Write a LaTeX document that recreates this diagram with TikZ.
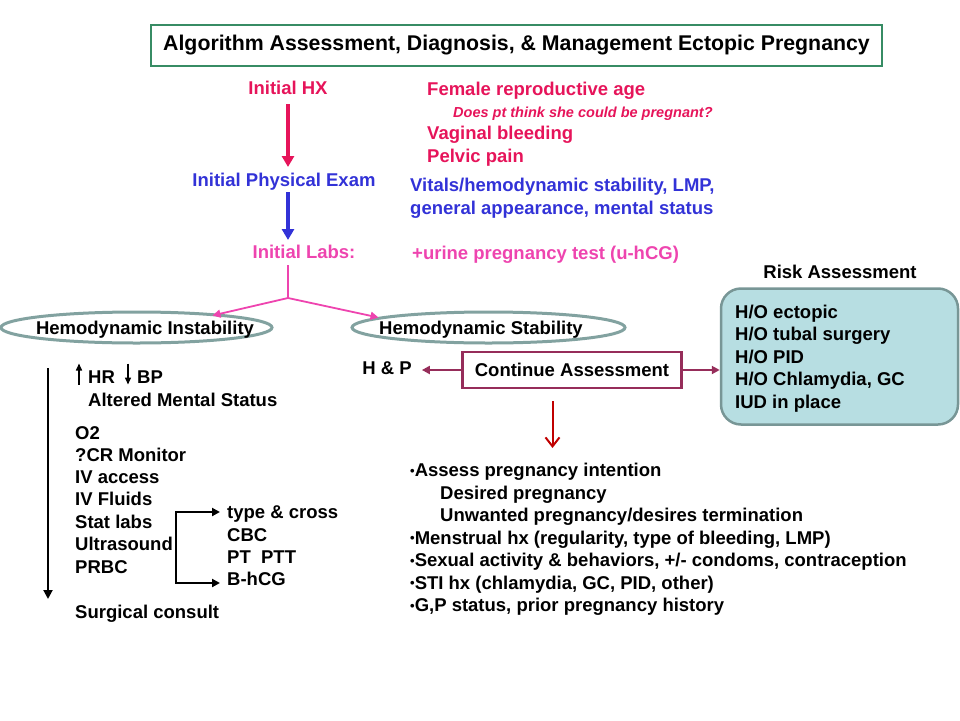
\documentclass[tikz,border=0pt]{standalone}
\usepackage{fontspec}
\setmainfont{Liberation Sans}
\usetikzlibrary{arrows.meta,shapes.geometric,calc}
\definecolor{crimson}{RGB}{230,20,90}
\definecolor{exblue}{RGB}{50,50,215}
\definecolor{labpink}{RGB}{238,68,175}
\definecolor{titlegreen}{RGB}{55,140,100}
\definecolor{ellgray}{RGB}{130,162,160}
\definecolor{riskfill}{RGB}{183,222,226}
\definecolor{riskborder}{RGB}{120,150,150}
\definecolor{maroon}{RGB}{150,45,90}
\definecolor{darkred}{RGB}{192,0,0}
\newcommand{\smallbul}{{\fontsize{13}{13}\selectfont\raisebox{1.2pt}{\textbullet}}}
\begin{document}
\begin{tikzpicture}[x=1pt,y=-1pt,
  txt/.style={inner sep=0pt, anchor=base west, font=\bfseries\fontsize{18.5}{21}\selectfont},
  txtc/.style={txt, anchor=base},
  small/.style={inner sep=0pt, anchor=base west, font=\bfseries\itshape\fontsize{14.5}{17}\selectfont},
  bigarrow/.style={line width=4pt, -{Triangle[length=11pt,width=12pt]}},
  thinarrow/.style={line width=1.8pt, -{Triangle[length=8pt,width=8pt]}},
  ellshape/.style={ellipse, draw=ellgray, line width=3pt, inner sep=0pt},
]
\useasboundingbox (0,0) rectangle (960,720);

% title
\node[draw=titlegreen, line width=2.5pt, minimum width=731pt, minimum height=41pt, inner sep=0pt,
  font=\bfseries\fontsize{21.3}{24}\selectfont] (title) at (516.5,45.5)
  {Algorithm Assessment, Diagnosis, \& Management Ectopic Pregnancy};

% left spine
\node[txtc, text=crimson] (hx) at (288,94.5) {Initial HX};
\node[txtc, text=exblue] (pe) at (284,186.5) {Initial Physical Exam};
\node[txtc, text=labpink] (labs) at (304,258) {Initial Labs:};

\coordinate (hxa) at (288,104);
\coordinate (hxb) at (288,167);
\coordinate (pea) at (288,192);
\coordinate (peb) at (288,240);
\draw[bigarrow, crimson] (hxa) -- (hxb);
\draw[bigarrow, exblue] (pea) -- (peb);

% right column of history / exam / labs
\node[txt, text=crimson] (f1) at (427,95) {Female reproductive age};
\node[small, text=crimson] (f2) at (453,117) {Does pt think she could be pregnant?};
\node[txt, text=crimson] (f3) at (427,139) {Vaginal bleeding};
\node[txt, text=crimson] (f4) at (427,162) {Pelvic pain};
\node[txt, text=exblue] (v1) at (410,191) {Vitals/hemodynamic stability, LMP,};
\node[txt, text=exblue] (v2) at (410,214) {general appearance, mental status};
\node[txt, text=labpink] (u1) at (412,259) {+urine pregnancy test (u-hCG)};

% ellipses
\node[ellshape, minimum width=271pt, minimum height=31pt] (instab) at (136.5,327.5) {};
\node[txtc] (instabt) at (145,334) {Hemodynamic Instability};
\node[ellshape, minimum width=273pt, minimum height=31pt] (stab) at (488.5,327.5) {};
\node[txtc] (stabt) at (481,334) {Hemodynamic Stability};

% pink split
\coordinate (labsb) at (288,265);
\coordinate (jn) at (288,298);
\draw[labpink, line width=1.8pt] (labsb) -- (jn);
\draw[thinarrow, labpink] (jn) -- ($(instab.center)+(76,-12)$);
\draw[thinarrow, labpink] (jn) -- ($(stab.center)+(-110,-10)$);

% risk assessment
\node[txtc] (rah) at (840,278) {Risk Assessment};
\node[draw=riskborder, fill=riskfill, line width=2.5pt, rounded corners=20pt,
  minimum width=237pt, minimum height=136pt, inner sep=0pt] (risk) at (839.5,356.5) {};
\node[txt] (r1) at (735,318) {H/O ectopic};
\node[txt] (r2) at (735,340.5) {H/O tubal surgery};
\node[txt] (r3) at (735,363) {H/O PID};
\node[txt] (r4) at (735,385.5) {H/O Chlamydia, GC};
\node[txt] (r5) at (735,408) {IUD in place};

% continue assessment
\node[draw=maroon, line width=2.5pt, minimum width=219pt, minimum height=36pt, inner sep=0pt,
  font=\bfseries\fontsize{18.5}{21}\selectfont] (cont) at (572,370) {Continue Assessment};
\node[txtc] (hp) at (387,374.5) {H \& P};
\draw[maroon, line width=2.5pt, -{Triangle[length=8pt,width=8pt]}, shorten >=10pt] (cont.west) -- (hp.east |- cont.west);
\draw[maroon, line width=2.5pt, -{Triangle[length=8pt,width=8pt]}] (cont.east) -- (risk.west |- cont.east);

\coordinate (dra) at (552.5,401);
\coordinate (drb) at (552.5,448);
\draw[darkred, line width=2pt, -{Straight Barb[length=9pt,width=14pt,line width=2pt]}] (dra) -- (drb);

% assessment list
\node[txt] (a1) at (410,476.5) {\smallbul Assess pregnancy intention};
\node[txt] (a2) at (440,499) {Desired pregnancy};
\node[txt] (a3) at (440,521.5) {Unwanted pregnancy/desires termination};
\node[txt] (a4) at (410,544) {\smallbul Menstrual hx (regularity, type of bleeding, LMP)};
\node[txt] (a5) at (410,566.5) {\smallbul Sexual activity \& behaviors, +/- condoms, contraception};
\node[txt] (a6) at (410,589) {\smallbul STI hx (chlamydia, GC, PID, other)};
\node[txt] (a7) at (410,611.5) {\smallbul G,P status, prior pregnancy history};

% instability side
\node[txt] (hr) at (88,383.5) {HR};
\node[txt] (bp) at (137,383.5) {BP};
\draw[line width=1.5pt, -{Triangle[length=7pt,width=6pt]}] ($(hr.base west)+(-9,1)$) -- ($(hr.base west)+(-9,-20)$);
\draw[line width=1.5pt, -{Triangle[length=7pt,width=6pt]}] ($(bp.base west)+(-9,-20)$) -- ($(bp.base west)+(-9,1)$);
\node[txt] (ams) at (88,406) {Altered Mental Status};

\node[txt] (o2) at (75,439) {O2};
\node[txt] (cr) at (75,461.5) {?CR Monitor};
\node[txt] (iva) at (75,483.5) {IV access};
\node[txt] (ivf) at (75,505.5) {IV Fluids};
\node[txt] (stat) at (75,528) {Stat labs};
\node[txt] (us) at (75,550) {Ultrasound};
\node[txt] (prbc) at (75,573) {PRBC};
\node[txt] (surg) at (75,618) {Surgical consult};

\node[txt] (tc) at (227,518.5) {type \& cross};
\node[txt] (cbc) at (227,541) {CBC};
\node[txt] (pt) at (227,563) {PT\ \ PTT};
\node[txt] (bh) at (227,585.5) {B-hCG};

\coordinate (bk1) at (176,512);
\coordinate (bk2) at (176,583);
\draw[line width=2pt, {Triangle[length=8pt,width=8pt]}-{Triangle[length=8pt,width=8pt]}]
  ($(tc.west |- bk1)+(-7,0)$) -- (bk1) -- (bk2) -- ($(bh.west |- bk2)+(-7,0)$);

\coordinate (la) at (48,368);
\coordinate (lb) at (48,599);
\draw[line width=2pt, -{Triangle[length=9pt,width=9pt]}] (la) -- (lb);
\end{tikzpicture}
\end{document}
